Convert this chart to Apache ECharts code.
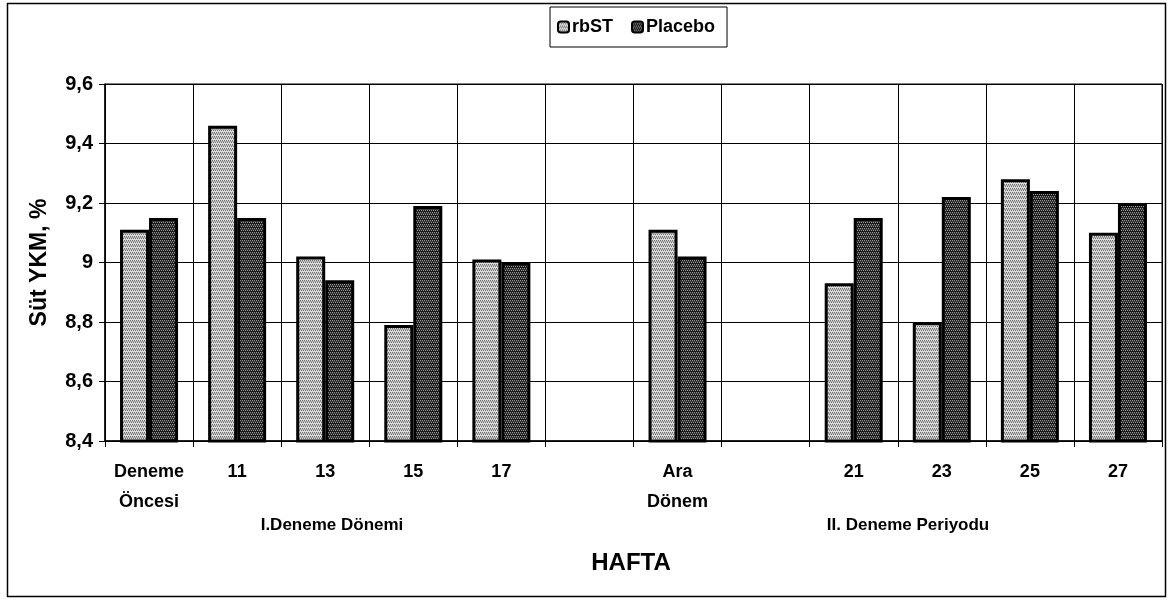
<!DOCTYPE html>
<html>
<head>
<meta charset="utf-8">
<script src="https://cdn.jsdelivr.net/npm/echarts@6/dist/echarts.min.js"></script>
<style>
  html, body { margin: 0; padding: 0; background: #fff; }
  #chart { width: 1172px; height: 602px; }
</style>
</head>
<body>
<div id="chart"></div>
<script>
// Weeks (HAFTA); empty slots keep the gaps between the trial periods
const weeks = ['Deneme\nÖncesi', '11', '13', '15', '17', '', 'Ara\nDönem', '', '21', '23', '25', '27'];
// Milk solids-not-fat (Süt YKM, %) per group
const rbST    = [9.11, 9.46, 9.02, 8.79, 9.01, null, 9.11, null, 8.93, 8.80, 9.28, 9.10];
const placebo = [9.15, 9.15, 8.94, 9.19, 9.00, null, 9.02, null, 9.15, 9.22, 9.24, 9.20];
const yTicks  = { min: 8.4, max: 9.6, step: 0.2 };

const FONT = '"Liberation Sans", Arial, sans-serif';

// Small tiled textures used as bar fills
function makeTexture(base, dot, alt) {
  const c = document.createElement('canvas');
  c.width = 4; c.height = 4;
  const g = c.getContext('2d');
  g.fillStyle = base; g.fillRect(0, 0, 4, 4);
  g.fillStyle = dot;
  g.fillRect(0, 0, 1, 1); g.fillRect(2, 0, 1, 1);
  g.fillRect(1, 2, 1, 1); g.fillRect(3, 2, 1, 1);
  g.fillStyle = alt;
  g.fillRect(0, 1, 4, 1);
  return c;
}
const lightFill = makeTexture('#dcdcdc', '#6e6e6e', '#a8a8a8');
const darkFill  = makeTexture('#1a1a1a', '#9a9a9a', '#3a3a3a');

const chart = echarts.init(document.getElementById('chart'), null, { renderer: 'canvas' });

chart.setOption({
  backgroundColor: '#ffffff',
  animation: false,
  legend: {
    data: ['rbST', 'Placebo'],
    left: 550,
    top: 7,
    padding: [11, 12, 11, 7],
    itemWidth: 11,
    itemHeight: 11,
    itemGap: 18,
    borderColor: '#000',
    borderWidth: 1,
    textStyle: { fontFamily: FONT, fontWeight: 'bold', fontSize: 18, color: '#000', padding: [0, 0, 0, -2] }
  },
  grid: {
    left: 105, right: 10, top: 84, bottom: 161,
    show: true, borderColor: '#000', borderWidth: 1
  },
  xAxis: {
    type: 'category',
    data: weeks,
    boundaryGap: true,
    axisLine: { lineStyle: { color: '#000', width: 1.5 } },
    axisTick: { show: true, length: 6, lineStyle: { color: '#000' } },
    splitLine: { show: true, lineStyle: { color: '#000', width: 1 } },
    axisLabel: {
      interval: 0,
      margin: 16,
      color: '#000',
      fontFamily: FONT,
      fontWeight: 'bold',
      fontSize: 18,
      lineHeight: 30
    }
  },
  yAxis: {
    type: 'value',
    min: yTicks.min,
    max: yTicks.max,
    interval: yTicks.step,
    name: 'Süt YKM, %',
    nameLocation: 'middle',
    nameGap: 54,
    nameRotate: 90,
    nameTextStyle: { fontFamily: FONT, fontWeight: 'bold', fontSize: 23, color: '#000' },
    axisLine: { show: true, lineStyle: { color: '#000', width: 1.5 } },
    axisTick: { show: true, length: 6, lineStyle: { color: '#000' } },
    splitLine: { show: true, lineStyle: { color: '#000', width: 1 } },
    axisLabel: {
      margin: 12,
      color: '#000',
      fontFamily: FONT,
      fontWeight: 'bold',
      fontSize: 20,
      formatter: v => String(Math.round(v * 10) / 10).replace('.', ',')
    }
  },
  series: [
    {
      name: 'rbST',
      type: 'bar',
      data: rbST,
      barWidth: 29,
      barGap: '0%',
      itemStyle: { color: { image: lightFill, repeat: 'repeat' }, borderColor: '#000', borderWidth: 3 }
    },
    {
      name: 'Placebo',
      type: 'bar',
      data: placebo,
      barWidth: 29,
      barGap: '0%',
      itemStyle: { color: { image: darkFill, repeat: 'repeat' }, borderColor: '#000', borderWidth: 3 }
    }
  ],
  graphic: [
    {
      type: 'rect',
      shape: { x: 7.5, y: 3.5, width: 1158, height: 593 },
      style: { fill: 'none', stroke: '#000', lineWidth: 1.5 },
      silent: true, z: 100
    },
    {
      type: 'text', x: 332, y: 525,
      style: { text: 'I.Deneme Dönemi', font: 'bold 17px ' + FONT, fill: '#000', textAlign: 'center', textVerticalAlign: 'middle' }
    },
    {
      type: 'text', x: 908, y: 525,
      style: { text: 'II. Deneme Periyodu', font: 'bold 17px ' + FONT, fill: '#000', textAlign: 'center', textVerticalAlign: 'middle' }
    },
    {
      type: 'text', x: 631, y: 563,
      style: { text: 'HAFTA', font: 'bold 24px ' + FONT, fill: '#000', textAlign: 'center', textVerticalAlign: 'middle' }
    }
  ]
});
</script>
</body>
</html>
